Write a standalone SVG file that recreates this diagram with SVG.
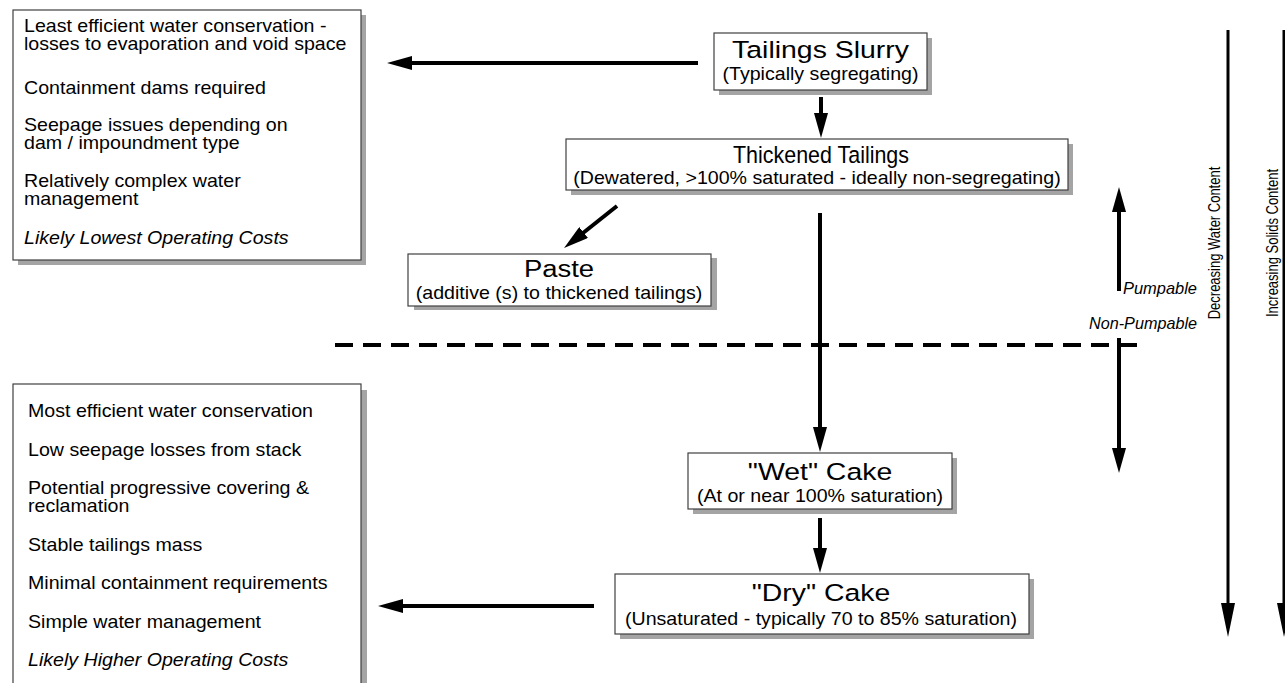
<svg xmlns="http://www.w3.org/2000/svg" width="1285" height="683" viewBox="0 0 1285 683">
<style>
.bx{fill:#fff;stroke:#404040;stroke-width:1.2}
.sh{fill:#a4a4a4}
.t{font-family:"Liberation Sans",Arial,Helvetica,sans-serif;font-size:18.5px;fill:#000}
.ti{font-size:24.5px}
.lb{font-size:17px}
.v{font-size:13px}
.it{font-style:italic}
.m{text-anchor:middle}
.e{text-anchor:end}
.c{stroke:#000;stroke-width:4;fill:none}
.c3{stroke:#000;stroke-width:3;fill:none}
</style>
<defs>
<marker id="ah" viewBox="0 0 25 14" refX="10" refY="7" markerWidth="25" markerHeight="14" markerUnits="userSpaceOnUse" orient="auto">
<path d="M0,0 L25,7 L0,14 z" fill="#000"/>
</marker>
<marker id="ahl" viewBox="0 0 34 14" refX="19" refY="7" markerWidth="34" markerHeight="14" markerUnits="userSpaceOnUse" orient="auto">
<path d="M0,0 L34,7 L0,14 z" fill="#000"/>
</marker>
</defs>
<rect width="1285" height="683" fill="#fff"/>

<g id="box-top-left">
<rect class="sh" x="18" y="15" width="348" height="250"/>
<rect class="bx" x="13" y="10" width="348" height="250"/>
<text class="t" transform="translate(24,32) scale(1.06,1)">Least efficient water conservation -</text>
<text class="t" transform="translate(24,50) scale(1.06,1)">losses to evaporation and void space</text>
<text class="t" transform="translate(24,94) scale(1.06,1)">Containment dams required</text>
<text class="t" transform="translate(24,131) scale(1.06,1)">Seepage issues depending on</text>
<text class="t" transform="translate(24,149) scale(1.06,1)">dam / impoundment type</text>
<text class="t" transform="translate(24,187) scale(1.06,1)">Relatively complex water</text>
<text class="t" transform="translate(24,205) scale(1.06,1)">management</text>
<text class="t it" transform="translate(24,244) scale(1.06,1)">Likely Lowest Operating Costs</text>
</g>

<g id="box-bottom-left">
<rect class="sh" x="19" y="390" width="348" height="320"/>
<rect class="bx" x="13" y="384" width="348" height="320"/>
<text class="t" transform="translate(28,417) scale(1.06,1)">Most efficient water conservation</text>
<text class="t" transform="translate(28,456) scale(1.06,1)">Low seepage losses from stack</text>
<text class="t" transform="translate(28,494) scale(1.06,1)">Potential progressive covering &amp;</text>
<text class="t" transform="translate(28,512) scale(1.06,1)">reclamation</text>
<text class="t" transform="translate(28,551) scale(1.06,1)">Stable tailings mass</text>
<text class="t" transform="translate(28,589) scale(1.06,1)">Minimal containment requirements</text>
<text class="t" transform="translate(28,628) scale(1.06,1)">Simple water management</text>
<text class="t it" transform="translate(28,666) scale(1.06,1)">Likely Higher Operating Costs</text>
</g>

<g id="node-slurry">
<rect class="sh" x="719" y="38" width="213" height="57"/>
<rect class="bx" x="714" y="33" width="213" height="57"/>
<text class="t ti m" transform="translate(820.5,58) scale(1.16,1)">Tailings Slurry</text>
<text class="t m" transform="translate(820.5,80) scale(1.06,1)">(Typically segregating)</text>
</g>

<g id="node-thickened">
<rect class="sh" x="571" y="144" width="502" height="51"/>
<rect class="bx" x="566" y="139" width="502" height="51"/>
<text class="t ti m" transform="translate(821,163)" textLength="176" lengthAdjust="spacingAndGlyphs">Thickened Tailings</text>
<text class="t m" transform="translate(817,184) scale(1.06,1)">(Dewatered, &gt;100% saturated - ideally non-segregating)</text>
</g>

<g id="node-paste">
<rect class="sh" x="414" y="258" width="303" height="52"/>
<rect class="bx" x="408" y="254" width="303" height="52"/>
<text class="t ti m" transform="translate(559,277) scale(1.12,1)">Paste</text>
<text class="t m" transform="translate(559,299) scale(1.06,1)">(additive (s) to thickened tailings)</text>
</g>

<g id="node-wet">
<rect class="sh" x="693" y="458" width="264" height="56"/>
<rect class="bx" x="688" y="453" width="264" height="56"/>
<text class="t ti m" transform="translate(820,480) scale(1.16,1)">"Wet" Cake</text>
<text class="t m" transform="translate(820,502) scale(1.06,1)">(At or near 100% saturation)</text>
</g>

<g id="node-dry">
<rect class="sh" x="620" y="579" width="414" height="60"/>
<rect class="bx" x="615" y="574" width="414" height="60"/>
<text class="t ti m" transform="translate(821,601) scale(1.16,1)">"Dry" Cake</text>
<text class="t m" transform="translate(821,625) scale(1.06,1)">(Unsaturated - typically 70 to 85% saturation)</text>
</g>

<g id="labels">
<text class="t lb it e" x="1197" y="294" textLength="74" lengthAdjust="spacingAndGlyphs">Pumpable</text>
<text class="t lb it e" x="1197" y="329" textLength="108" lengthAdjust="spacingAndGlyphs">Non-Pumpable</text>
<text class="t v m" transform="translate(1220,243) scale(1.3,1) rotate(-90)">Decreasing Water Content</text>
<text class="t v m" transform="translate(1278,243) scale(1.3,1) rotate(-90)">Increasing Solids Content</text>
</g>

<g id="connectors">
<line class="c" x1="698" y1="63" x2="402" y2="63" marker-end="url(#ah)"/>
<line class="c" x1="821" y1="97" x2="821" y2="123" marker-end="url(#ah)"/>
<line class="c" x1="617" y1="206" x2="575.8" y2="238.7" marker-end="url(#ah)"/>
<line class="c" x1="820" y1="213" x2="820" y2="437" marker-end="url(#ah)"/>
<line class="c" x1="820" y1="518" x2="820" y2="558" marker-end="url(#ah)"/>
<line class="c" x1="594" y1="606" x2="393" y2="606" marker-end="url(#ah)"/>
<line class="c" x1="1119" y1="291" x2="1119" y2="202" marker-end="url(#ah)"/>
<line class="c" x1="1119" y1="338" x2="1119" y2="458" marker-end="url(#ah)"/>
<line class="c3" x1="1228" y1="30" x2="1228" y2="622" marker-end="url(#ahl)"/>
<line class="c3" x1="1284" y1="30" x2="1284" y2="622" marker-end="url(#ahl)"/>
<line class="c" x1="335" y1="345" x2="1143" y2="345" stroke-dasharray="18 10"/>
</g>
</svg>
